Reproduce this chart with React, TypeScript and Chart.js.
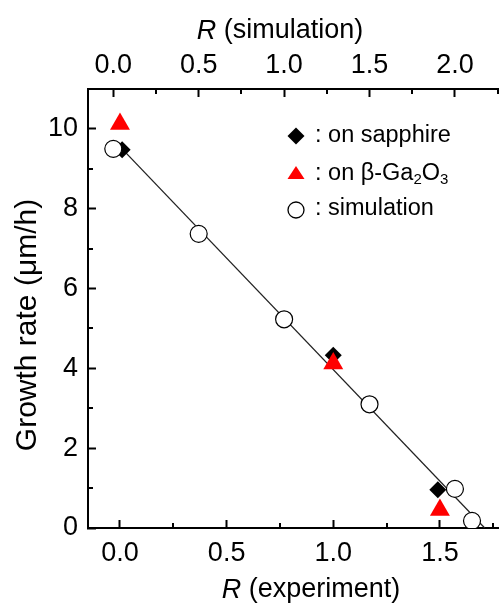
import React, { useEffect, useRef } from "react";
import { Chart, registerables } from "chart.js";

Chart.register(...registerables);

// ---- data ----
const sapphireR = [0.01, 1.0, 1.49];
const sapphireRate = [9.48, 4.33, 0.96];
const ga2o3R = [0.0, 1.0, 1.5];
const ga2o3Rate = [10.12, 4.12, 0.45];
const simR = [0.0, 0.5, 1.0, 1.5, 2.0, 2.1];
const simRate = [9.5, 7.37, 5.23, 3.1, 0.98, 0.18];
const fitR = [0.01, 1.71];
const fitRate = [9.5, 0.0];

const FONT = '"Liberation Sans", Arial, Helvetica, sans-serif';

const zip = (xs: number[], ys: number[]) => xs.map((x, i) => ({ x, y: ys[i] }));

const isStep = (v: number, s: number) => Math.abs(v / s - Math.round(v / s)) < 1e-6;

// minor (short) inward ticks
const minorTickPlugin = {
  id: "minorTicks",
  afterDraw(chart: any) {
    const ctx: CanvasRenderingContext2D = chart.ctx;
    const area = chart.chartArea;
    ctx.save();
    ctx.strokeStyle = "#000000";
    ctx.lineWidth = 2;
    const defs: [string, number][] = [["x", 0.5], ["x2", 0.5], ["y", 2]];
    for (const [id, major] of defs) {
      const sc = chart.scales[id];
      if (!sc || !sc.ticks) continue;
      for (const t of sc.ticks) {
        if (isStep(t.value, major)) continue;
        const p = Math.round(sc.getPixelForValue(t.value));
        const len = 5;
        ctx.beginPath();
        if (id === "x") {
          ctx.moveTo(p, area.bottom);
          ctx.lineTo(p, area.bottom - len);
        } else if (id === "x2") {
          ctx.moveTo(p, area.top);
          ctx.lineTo(p, area.top + len);
        } else {
          ctx.moveTo(area.left, p);
          ctx.lineTo(area.left + len, p);
        }
        ctx.stroke();
      }
    }
    ctx.restore();
  },
};

function drawMixed(ctx: CanvasRenderingContext2D, parts: [string, string][], cx: number, cy: number) {
  const widths = parts.map(([txt, f]) => {
    ctx.font = f;
    return ctx.measureText(txt).width;
  });
  const total = widths.reduce((a, b) => a + b, 0);
  let x = cx - total / 2;
  parts.forEach(([txt, f], i) => {
    ctx.font = f;
    ctx.fillText(txt, x, cy);
    x += widths[i];
  });
}

const annotPlugin = {
  id: "annot",
  afterDraw(chart: any) {
    const ctx: CanvasRenderingContext2D = chart.ctx;
    ctx.save();
    ctx.fillStyle = "#000";
    ctx.textBaseline = "middle";
    ctx.textAlign = "left";
    const it = `italic 27px ${FONT}`;
    const nf = `27px ${FONT}`;
    drawMixed(ctx, [["R", it], [" (simulation)", nf]], 280, 31);
    drawMixed(ctx, [["R", it], [" (experiment)", nf]], 311, 590);
    ctx.save();
    ctx.translate(28, 325);
    ctx.rotate(-Math.PI / 2);
    drawMixed(ctx, [["Growth rate (\u03bcm/h)", `30px ${FONT}`]], 0, 0);
    ctx.restore();

    // legend
    const lx = 296;
    const tx = 315;
    const lf = `23.5px ${FONT}`;
    const sf = `15px ${FONT}`;
    ctx.fillStyle = "#000";
    ctx.beginPath();
    ctx.moveTo(lx - 8.5, 136);
    ctx.lineTo(lx, 127.5);
    ctx.lineTo(lx + 8.5, 136);
    ctx.lineTo(lx, 144.5);
    ctx.closePath();
    ctx.fill();
    ctx.font = lf;
    ctx.fillText(": on sapphire", tx, 136);
    ctx.fillStyle = "#ff0000";
    ctx.beginPath();
    ctx.moveTo(lx, 166);
    ctx.lineTo(lx + 8.5, 179);
    ctx.lineTo(lx - 8.5, 179);
    ctx.closePath();
    ctx.fill();
    ctx.fillStyle = "#000";
    let x = tx;
    const segs: [string, string, number][] = [
      [": on \u03b2-Ga", lf, 0],
      ["2", sf, 6],
      ["O", lf, 0],
      ["3", sf, 6],
    ];
    segs.forEach(([t, f, dy]) => {
      ctx.font = f;
      ctx.fillText(t, x, 174 + dy);
      x += ctx.measureText(t).width;
    });
    ctx.beginPath();
    ctx.arc(lx, 210, 8, 0, Math.PI * 2);
    ctx.fillStyle = "#fff";
    ctx.fill();
    ctx.lineWidth = 1.3;
    ctx.strokeStyle = "#000";
    ctx.stroke();
    ctx.fillStyle = "#000";
    ctx.font = lf;
    ctx.fillText(": simulation", tx, 209);
    ctx.restore();
  },
};

const noPad = (s: any) => {
  s.paddingLeft = 0;
  s.paddingRight = 0;
  s.paddingTop = 0;
  s.paddingBottom = 0;
};

const gridFor = (major: number) => ({
  display: true,
  drawOnChartArea: false,
  drawTicks: true,
  tickLength: -8,
  tickWidth: 2,
  tickColor: (c: any) => (c.tick && isStep(c.tick.value, major) ? "#000000" : "rgba(0,0,0,0)"),
  color: "rgba(0,0,0,0)",
});

export default function App() {
  const ref = useRef<HTMLCanvasElement | null>(null);
  useEffect(() => {
    if (!ref.current) return;
    const tickFont = { family: FONT, size: 27 };
    const chart = new Chart(ref.current, {
      type: "scatter",
      data: {
        datasets: [
          {
            label: "simulation",
            data: zip(simR, simRate),
            xAxisID: "x2",
            yAxisID: "y",
            pointStyle: "circle",
            pointRadius: 8.5,
            backgroundColor: "#ffffff",
            borderColor: "#000000",
            borderWidth: 1.2,
            showLine: false,
          },
          {
            label: "on b-Ga2O3",
            data: zip(ga2o3R, ga2o3Rate),
            xAxisID: "x",
            yAxisID: "y",
            pointStyle: "triangle",
            pointRadius: 11.5,
            backgroundColor: "#ff0000",
            borderColor: "#ff0000",
            borderWidth: 0,
            showLine: false,
          },
          {
            label: "on sapphire",
            data: zip(sapphireR, sapphireRate),
            xAxisID: "x",
            yAxisID: "y",
            pointStyle: "rectRot",
            pointRadius: 8.5,
            backgroundColor: "#000000",
            borderColor: "#000000",
            borderWidth: 0,
            showLine: false,
          },
          {
            label: "fit",
            data: zip(fitR, fitRate),
            xAxisID: "x",
            yAxisID: "y",
            pointRadius: 0,
            borderColor: "#222222",
            borderWidth: 1.3,
            showLine: true,
            fill: false,
          },
        ],
      },
      options: {
        responsive: false,
        animation: false,
        devicePixelRatio: 1,
        layout: { padding: 0, autoPadding: false },
        plugins: { legend: { display: false }, tooltip: { enabled: false } },
        scales: {
          x: {
            type: "linear",
            position: "bottom",
            min: -0.15,
            max: 1.777,
            grid: gridFor(0.5),
            border: { display: true, color: "#000", width: 2 },
            ticks: {
              stepSize: 0.25,
              includeBounds: false,
              autoSkip: false,
              maxRotation: 0,
              padding: 17,
              color: "#000",
              font: tickFont,
              callback: (v: any) => (isStep(Number(v), 0.5) ? Number(v).toFixed(1) : ""),
            },
            afterFit: (s: any) => {
              s.height = 75;
              noPad(s);
            },
          },
          x2: {
            type: "linear",
            position: "top",
            min: -0.148,
            max: 2.258,
            grid: gridFor(0.5),
            border: { display: true, color: "#000", width: 2 },
            ticks: {
              stepSize: 0.25,
              includeBounds: false,
              autoSkip: false,
              maxRotation: 0,
              padding: 15,
              color: "#000",
              font: tickFont,
              callback: (v: any) => (isStep(Number(v), 0.5) ? Number(v).toFixed(1) : ""),
            },
            afterFit: (s: any) => {
              s.height = 89;
              noPad(s);
            },
          },
          y: {
            type: "linear",
            position: "left",
            min: 0,
            max: 11,
            grid: gridFor(2),
            border: { display: true, color: "#000", width: 2 },
            ticks: {
              stepSize: 1,
              includeBounds: false,
              autoSkip: false,
              padding: 18,
              color: "#000",
              font: tickFont,
              callback: (v: any) => (isStep(Number(v), 2) ? String(Math.round(Number(v))) : ""),
            },
            afterFit: (s: any) => {
              s.width = 88;
              noPad(s);
            },
          },
        },
      },
      plugins: [minorTickPlugin, annotPlugin],
    } as any);
    return () => chart.destroy();
  }, []);
  return (
    <div style={{ position: "fixed", left: 0, top: 0, width: 499, height: 603 }}>
      <canvas ref={ref} width={499} height={603} style={{ display: "block" }} />
    </div>
  );
}
